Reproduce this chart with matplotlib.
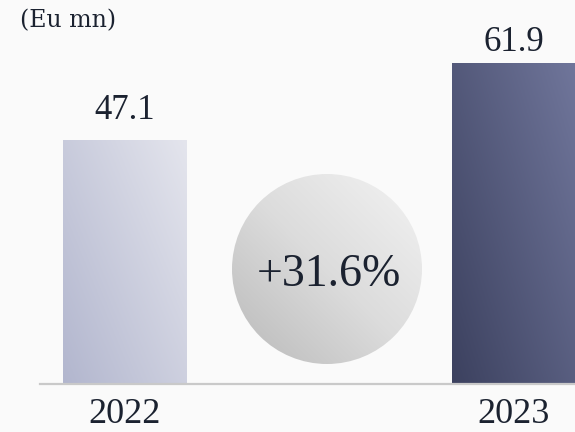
import numpy as np
import matplotlib
matplotlib.use("Agg")
import matplotlib.pyplot as plt
from matplotlib.colors import LinearSegmentedColormap
from matplotlib.patches import Circle

years = ["2022", "2023"]
values = [47.1, 61.9]
growth_label = "+31.6%"
unit_label = "(Eu mn)"

W, H = 575, 432
BG = "#fafafa"
TXT = "#1b2230"

fig = plt.figure(figsize=(W / 100, H / 100), dpi=100, facecolor=BG)
ax = fig.add_axes([40 / W, 1 - 384 / H, 535 / W, 384 / H])
ax.set_facecolor(BG)

x = np.arange(len(values))
bars = ax.bar(x, values, width=0.316, color="none", edgecolor="none", zorder=2)

bar_cmaps = [
    LinearSegmentedColormap.from_list("b1", ["#b2b6ce", "#e4e5ed"]),
    LinearSegmentedColormap.from_list("b2", ["#3c415f", "#70769b"]),
]
gx, gy = np.meshgrid(np.linspace(0, 1, 100), np.linspace(0, 1, 200))
grad = 0.55 * gx + 0.45 * gy
for b, cm in zip(bars, bar_cmaps):
    x0, y0 = b.get_x(), b.get_y()
    im = ax.imshow(grad, cmap=cm, origin="lower", aspect="auto",
                   extent=(x0, x0 + b.get_width(), y0, y0 + b.get_height()),
                   zorder=2, interpolation="bilinear")
    im.set_clip_path(b)
ax.set_xlim(-0.217, 1.157)
ax.set_ylim(0, 74)

offsets = [14.5, 8.5]
for xi, v, off in zip(x, values, offsets):
    ax.annotate(f"{v:.1f}", (xi, v), xytext=(0, off),
                textcoords="offset points", ha="center", va="baseline",
                fontsize=25, color=TXT, family="Liberation Serif")

for s in ["top", "right", "left"]:
    ax.spines[s].set_visible(False)
ax.spines["bottom"].set_color("#c9c9c9")
ax.spines["bottom"].set_linewidth(1.6)
ax.set_yticks([])
ax.set_xticks(x)
ax.set_xticklabels(years, fontsize=26, color=TXT, family="Liberation Serif")
ax.tick_params(axis="x", length=0, pad=10)

# growth circle
cx, cy, r = 327, 269, 95
cax = fig.add_axes([(cx - r) / W, 1 - (cy + r) / H, 2 * r / W, 2 * r / H])
cax.set_xlim(0, 1)
cax.set_ylim(0, 1)
cax.axis("off")
ccm = LinearSegmentedColormap.from_list("c", ["#b9b9b9", "#dcdcdc", "#f3f3f3"])
cgx, cgy = np.meshgrid(np.linspace(0, 1, 200), np.linspace(0, 1, 200))
im = cax.imshow(0.5 * cgx + 0.5 * cgy, cmap=ccm, origin="lower", extent=(0, 1, 0, 1),
                aspect="auto", interpolation="bilinear")
circ = Circle((0.5, 0.5), 0.5, transform=cax.transData, facecolor="none", edgecolor="none")
cax.add_patch(circ)
im.set_clip_path(circ)
cax.text(0.51, 0.47, growth_label, ha="center", va="center",
         fontsize=33, color=TXT, family="Liberation Serif")

fig.text(20 / W, 1 - 9 / H, unit_label, ha="left", va="top", fontsize=17,
         color=TXT, family="DejaVu Serif")

fig.savefig("out.png", dpi=100, facecolor=BG)
